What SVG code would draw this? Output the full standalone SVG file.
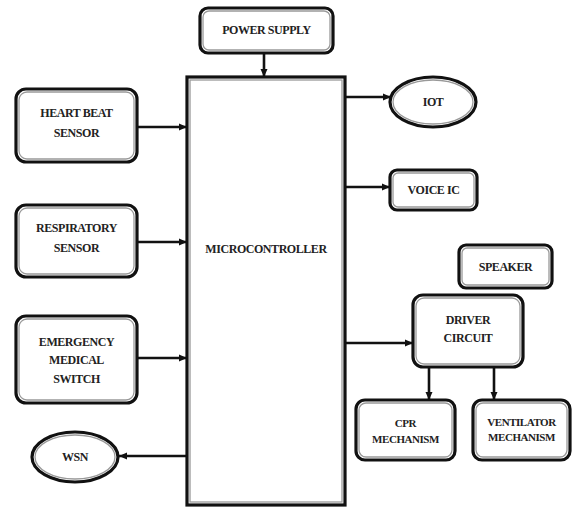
<svg xmlns="http://www.w3.org/2000/svg" width="573" height="508" viewBox="0 0 573 508">
<defs>
<marker id="ah" markerUnits="userSpaceOnUse" markerWidth="9" markerHeight="8" refX="8" refY="4" orient="auto">
<path d="M0,0.5 L8,4 L0,7.5 z" fill="#111"/>
</marker>
<style>
.box{fill:#fff;stroke:#111;stroke-width:3.2}
.inner{fill:none;stroke:#999;stroke-width:1.3}
.t{font-family:"Liberation Serif","DejaVu Serif","Times New Roman",serif;font-weight:bold;font-size:12px;fill:#222;text-anchor:middle;letter-spacing:-0.45px}
.ts{font-size:11px}
.c{stroke:#111;stroke-width:2.6;fill:none;marker-end:url(#ah)}
</style>
</defs>
<rect width="573" height="508" fill="#fff"/>
<g id="connectors">
<line class="c" x1="264" y1="53" x2="264" y2="77"/>
<line class="c" x1="137" y1="127" x2="187" y2="127"/>
<line class="c" x1="137" y1="242" x2="187" y2="242"/>
<line class="c" x1="137" y1="358" x2="187" y2="358"/>
<line class="c" x1="187" y1="456" x2="119" y2="456"/>
<line class="c" x1="345" y1="97" x2="391" y2="97"/>
<line class="c" x1="345" y1="187" x2="390" y2="187"/>
<line class="c" x1="345" y1="343" x2="413" y2="343"/>
<line class="c" x1="429" y1="367" x2="429" y2="400"/>
<line class="c" x1="494" y1="367" x2="494" y2="400"/>
</g>
<g id="power-supply">
<rect class="box" x="200" y="8" width="133" height="45" rx="8"/>
<rect class="inner" x="203" y="11" width="127" height="39" rx="6"/>
<text class="t" x="266.5" y="34">POWER SUPPLY</text>
</g>
<g id="microcontroller">
<rect class="box" x="187" y="77" width="158" height="428"/>
<rect class="inner" x="190" y="80" width="152" height="422"/>
<text class="t" x="266" y="253">MICROCONTROLLER</text>
</g>
<g id="heart-beat-sensor">
<rect class="box" x="16" y="89" width="121" height="73" rx="10"/>
<rect class="inner" x="19" y="92" width="115" height="67" rx="8"/>
<text class="t" x="76.5" y="117">HEART BEAT</text>
<text class="t" x="76.5" y="137">SENSOR</text>
</g>
<g id="respiratory-sensor">
<rect class="box" x="16" y="205" width="121" height="72" rx="10"/>
<rect class="inner" x="19" y="208" width="115" height="66" rx="8"/>
<text class="t" x="76.5" y="232">RESPIRATORY</text>
<text class="t" x="76.5" y="252">SENSOR</text>
</g>
<g id="emergency-medical-switch">
<rect class="box" x="16" y="316" width="121" height="87" rx="10"/>
<rect class="inner" x="19" y="319" width="115" height="81" rx="8"/>
<text class="t" x="76.5" y="346">EMERGENCY</text>
<text class="t" x="76.5" y="364">MEDICAL</text>
<text class="t" x="76.5" y="383">SWITCH</text>
</g>
<g id="wsn">
<ellipse class="box" cx="75" cy="457" rx="43" ry="25"/>
<ellipse class="inner" cx="75" cy="457" rx="40" ry="22"/>
<text class="t" x="75" y="461">WSN</text>
</g>
<g id="iot">
<ellipse class="box" cx="433" cy="102" rx="43" ry="25"/>
<ellipse class="inner" cx="433" cy="102" rx="40" ry="22"/>
<text class="t" x="433" y="106">IOT</text>
</g>
<g id="voice-ic">
<rect class="box" x="390" y="170" width="87" height="40" rx="7"/>
<rect class="inner" x="393" y="173" width="81" height="34" rx="5"/>
<text class="t" x="433.5" y="194">VOICE IC</text>
</g>
<g id="speaker">
<rect class="box" x="459" y="245" width="93" height="43" rx="7"/>
<rect class="inner" x="462" y="248" width="87" height="37" rx="5"/>
<text class="t" x="505.5" y="271">SPEAKER</text>
</g>
<g id="driver-circuit">
<rect class="box" x="413" y="295" width="110" height="72" rx="10"/>
<rect class="inner" x="416" y="298" width="104" height="66" rx="8"/>
<text class="t" x="468" y="324">DRIVER</text>
<text class="t" x="468" y="342">CIRCUIT</text>
</g>
<g id="cpr-mechanism">
<rect class="box" x="356" y="400" width="99" height="60" rx="9"/>
<rect class="inner" x="359" y="403" width="93" height="54" rx="7"/>
<text class="t ts" x="405.5" y="427">CPR</text>
<text class="t ts" x="405.5" y="443">MECHANISM</text>
</g>
<g id="ventilator-mechanism">
<rect class="box" x="473" y="400" width="97" height="60" rx="9"/>
<rect class="inner" x="476" y="403" width="91" height="54" rx="7"/>
<text class="t ts" x="521.5" y="426">VENTILATOR</text>
<text class="t ts" x="521.5" y="441">MECHANISM</text>
</g>
</svg>
